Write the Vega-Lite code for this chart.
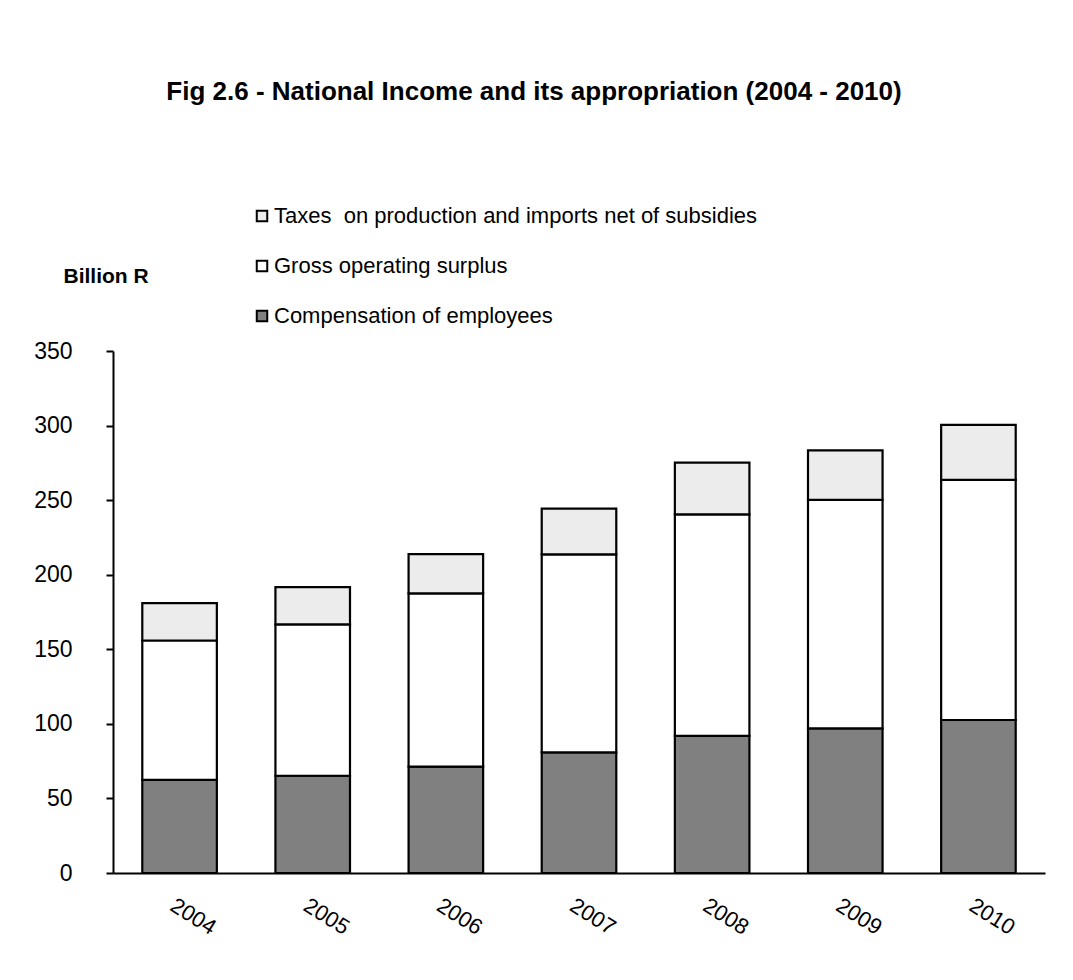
{
  "$schema": "https://vega.github.io/schema/vega-lite/v6.json",
  "width": 932,
  "height": 522,
  "autosize": "none",
  "padding": {"left": 113, "top": 351, "right": 28, "bottom": 107},
  "background": "white",
  "title": {
    "text": "Fig 2.6 - National Income and its appropriation (2004 - 2010)",
    "font": "Liberation Sans",
    "fontSize": 26,
    "fontWeight": "bold",
    "color": "black",
    "anchor": "middle",
    "frame": "group",
    "dx": -45,
    "offset": 100
  },
  "data": {
    "values": [
      {"year": "2004", "series": "Compensation of employees", "value": 62.4},
      {"year": "2004", "series": "Gross operating surplus", "value": 93.5},
      {"year": "2004", "series": "Taxes\u00a0 on production and imports net of subsidies", "value": 25.0},
      {"year": "2005", "series": "Compensation of employees", "value": 65.2},
      {"year": "2005", "series": "Gross operating surplus", "value": 101.5},
      {"year": "2005", "series": "Taxes\u00a0 on production and imports net of subsidies", "value": 25.0},
      {"year": "2006", "series": "Compensation of employees", "value": 71.3},
      {"year": "2006", "series": "Gross operating surplus", "value": 116.2},
      {"year": "2006", "series": "Taxes\u00a0 on production and imports net of subsidies", "value": 26.3},
      {"year": "2007", "series": "Compensation of employees", "value": 80.9},
      {"year": "2007", "series": "Gross operating surplus", "value": 132.8},
      {"year": "2007", "series": "Taxes\u00a0 on production and imports net of subsidies", "value": 30.6},
      {"year": "2008", "series": "Compensation of employees", "value": 91.9},
      {"year": "2008", "series": "Gross operating surplus", "value": 148.6},
      {"year": "2008", "series": "Taxes\u00a0 on production and imports net of subsidies", "value": 34.6},
      {"year": "2009", "series": "Compensation of employees", "value": 97.0},
      {"year": "2009", "series": "Gross operating surplus", "value": 153.2},
      {"year": "2009", "series": "Taxes\u00a0 on production and imports net of subsidies", "value": 33.2},
      {"year": "2010", "series": "Compensation of employees", "value": 102.6},
      {"year": "2010", "series": "Gross operating surplus", "value": 161.0},
      {"year": "2010", "series": "Taxes\u00a0 on production and imports net of subsidies", "value": 36.9}
    ]
  },
  "mark": {"type": "bar", "stroke": "black", "strokeWidth": 2.2},
  "encoding": {
    "x": {
      "field": "year",
      "type": "ordinal",
      "scale": {"paddingInner": 0.44, "paddingOuter": 0.22},
      "axis": {
        "title": null,
        "labelAngle": 32,
        "labelAlign": "left",
        "labelBaseline": "middle",
        "labelPadding": 30,
        "labelOffset": -7,
        "labelFont": "Liberation Sans",
        "labelFontSize": 22,
        "labelColor": "black",
        "ticks": false,
        "domainColor": "black",
        "domainWidth": 2,
        "grid": false
      }
    },
    "y": {
      "field": "value",
      "type": "quantitative",
      "stack": "zero",
      "scale": {"domain": [0, 350], "nice": false},
      "axis": {
        "values": [0, 50, 100, 150, 200, 250, 300, 350],
        "title": "Billion R",
        "titleAngle": 0,
        "titleAlign": "left",
        "titleBaseline": "middle",
        "titleX": -50,
        "titleY": -75,
        "titleFont": "Liberation Sans",
        "titleFontSize": 21,
        "titleFontWeight": "bold",
        "titleColor": "black",
        "labelFont": "Liberation Sans",
        "labelFontSize": 23,
        "labelColor": "black",
        "labelPadding": 34,
        "tickColor": "black",
        "tickSize": 7,
        "tickWidth": 2,
        "domainColor": "black",
        "domainWidth": 2,
        "grid": false
      }
    },
    "color": {
      "field": "series",
      "type": "nominal",
      "scale": {
        "domain": ["Taxes\u00a0 on production and imports net of subsidies", "Gross operating surplus", "Compensation of employees"],
        "range": ["#ececec", "#ffffff", "#808080"]
      },
      "legend": {
        "title": null,
        "orient": "none",
        "legendX": 138,
        "legendY": -146,
        "symbolType": "square",
        "symbolSize": 110,
        "symbolStrokeColor": "black",
        "symbolStrokeWidth": 2,
        "symbolOpacity": 1,
        "labelFont": "Liberation Sans",
        "labelFontSize": 22,
        "labelColor": "black",
        "labelLimit": 800,
        "rowPadding": 28,
        "labelOffset": 1
      }
    },
    "order": {"field": "series", "sort": "ascending"}
  },
  "config": {"view": {"stroke": null}}
}
